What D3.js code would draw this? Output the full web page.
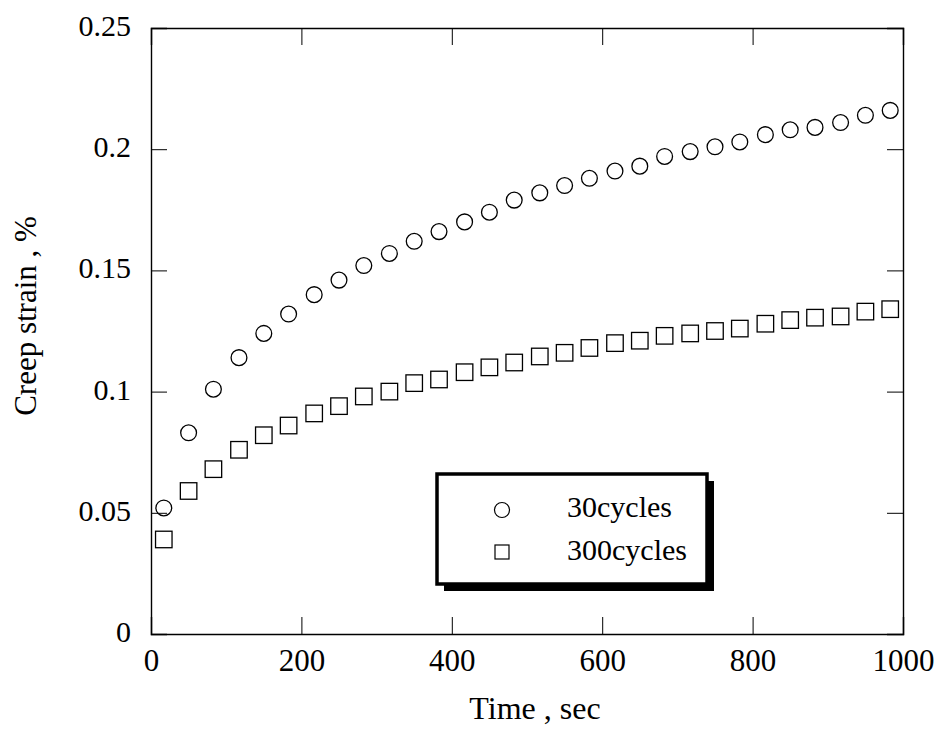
<!DOCTYPE html>
<html>
<head>
<meta charset="utf-8">
<script src="https://cdn.jsdelivr.net/npm/d3@7"></script>
<style>
  body { margin: 0; background: #fff; }
  text { font-family: "Liberation Serif", "Times New Roman", serif; fill: #000; }
</style>
</head>
<body>
<script>
const WIDTH  = 942;
const HEIGHT = 732;
const LEFT = 151, RIGHT = 903, TOP = 28, BOTTOM = 634;

// time (sec) of each reading
const times = [17, 50, 83, 117, 150, 183, 217, 250, 283, 317,
               350, 383, 417, 450, 483, 517, 550, 583, 617, 650,
               683, 717, 750, 783, 817, 850, 883, 917, 950, 983];

// creep strain (%)
const strain30 = [0.052, 0.083, 0.101, 0.114, 0.124, 0.132, 0.140, 0.146, 0.152, 0.157,
                  0.162, 0.166, 0.170, 0.174, 0.179, 0.182, 0.185, 0.188, 0.191, 0.193,
                  0.197, 0.199, 0.201, 0.203, 0.206, 0.208, 0.209, 0.211, 0.214, 0.216];
const strain300 = [0.039, 0.059, 0.068, 0.076, 0.082, 0.086, 0.091, 0.094, 0.098, 0.100,
                   0.1035, 0.105, 0.108, 0.110, 0.112, 0.1145, 0.116, 0.118, 0.120, 0.121,
                   0.123, 0.124, 0.125, 0.126, 0.128, 0.1295, 0.1305, 0.131, 0.133, 0.134];

const xTicks = [0, 200, 400, 600, 800, 1000];
const yTicks = [0, 0.05, 0.1, 0.15, 0.2, 0.25];
const seriesNames = ["30cycles", "300cycles"];

const svg = d3.select("body").append("svg")
    .attr("width", WIDTH)
    .attr("height", HEIGHT);

const xScale = d3.scaleLinear().domain([0, 1000]).range([LEFT, RIGHT]);
const yScale = d3.scaleLinear().domain([0, 0.25]).range([BOTTOM, TOP]);

// axes, ticks pointing inward on all four sides
function addAxes() {
  const fmt = d => (d === 0 ? "0" : String(+d.toFixed(2)));

  const bottom = svg.append("g")
      .attr("transform", "translate(0," + BOTTOM + ")")
      .call(d3.axisBottom(xScale).tickValues(xTicks).tickSize(-17).tickPadding(21).tickFormat(fmt));
  const top = svg.append("g")
      .attr("transform", "translate(0," + TOP + ")")
      .call(d3.axisTop(xScale).tickValues(xTicks).tickSize(-17).tickFormat(""));
  const left = svg.append("g")
      .attr("transform", "translate(" + LEFT + ",0)")
      .call(d3.axisLeft(yScale).tickValues(yTicks).tickSize(-16).tickPadding(20).tickFormat(fmt));
  const right = svg.append("g")
      .attr("transform", "translate(" + RIGHT + ",0)")
      .call(d3.axisRight(yScale).tickValues(yTicks).tickSize(-16).tickFormat(""));

  [bottom, top, left, right].forEach(g => {
    g.select(".domain").attr("stroke", "#000").attr("stroke-width", 1.4);
    g.selectAll(".tick line").attr("stroke", "#000").attr("stroke-width", 1);
    g.selectAll("text").style("font-size", "30px").attr("fill", "#000")
      .style("font-family", "'Liberation Serif', serif");
  });
  left.selectAll(".tick text").attr("dy", "0.25em");
  bottom.selectAll(".tick text").style("font-size", "31px").attr("dy", "0.5em");

  svg.append("text")
    .attr("x", 535)
    .attr("y", 719)
    .style("font-size", "32px")
    .style("text-anchor", "middle")
    .text("Time , sec");

  svg.append("text")
    .attr("transform", "translate(36,316) rotate(-90)")
    .style("font-size", "31px")
    .style("text-anchor", "middle")
    .text("Creep strain , %");
}

function drawPoints() {
  const pts30 = times.map((t, i) => ({ t: t, v: strain30[i] }));
  const pts300 = times.map((t, i) => ({ t: t, v: strain300[i] }));

  svg.append("g").selectAll("circle")
    .data(pts30)
    .enter().append("circle")
      .attr("cx", d => xScale(d.t))
      .attr("cy", d => yScale(d.v))
      .attr("r", 7.9)
      .attr("fill", "none")
      .attr("stroke", "#000")
      .attr("stroke-width", 1.3);

  const s = 16.5;
  svg.append("g").selectAll("rect")
    .data(pts300)
    .enter().append("rect")
      .attr("x", d => xScale(d.t) - s / 2)
      .attr("y", d => yScale(d.v) - s / 2)
      .attr("width", s)
      .attr("height", s)
      .attr("fill", "none")
      .attr("stroke", "#000")
      .attr("stroke-width", 1.3);
}

function drawLegend() {
  const lx = 437, ly = 474, lw = 270, lh = 110;
  const g = svg.append("g");
  // drop shadow
  g.append("rect")
    .attr("x", lx + 7).attr("y", ly + 7)
    .attr("width", lw).attr("height", lh)
    .attr("fill", "#000");
  g.append("rect")
    .attr("x", lx).attr("y", ly)
    .attr("width", lw).attr("height", lh)
    .attr("fill", "#fff")
    .attr("stroke", "#000")
    .attr("stroke-width", 3.5);

  g.append("circle")
    .attr("cx", 502).attr("cy", 510).attr("r", 7.5)
    .attr("fill", "none").attr("stroke", "#000").attr("stroke-width", 1.2);
  g.append("rect")
    .attr("x", 495).attr("y", 545).attr("width", 14).attr("height", 14)
    .attr("fill", "none").attr("stroke", "#000").attr("stroke-width", 1.2);

  g.selectAll(".legend-label")
    .data(seriesNames)
    .enter().append("text")
      .attr("class", "legend-label")
      .attr("x", 567)
      .attr("y", (d, i) => 517 + i * 43)
      .style("font-size", "30px")
      .text(d => d);
}

addAxes();
drawPoints();
drawLegend();
</script>
</body>
</html>
